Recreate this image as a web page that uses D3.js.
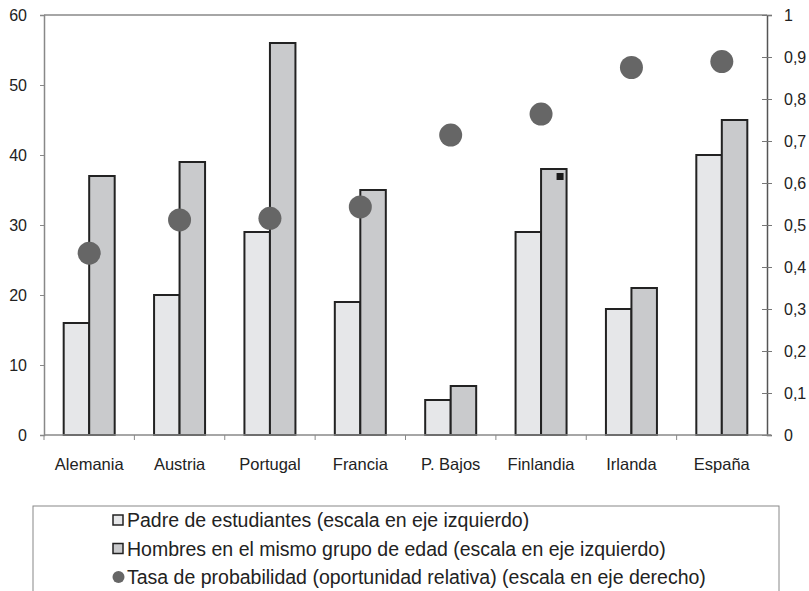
<!DOCTYPE html>
<html>
<head>
<meta charset="utf-8">
<script src="https://cdn.jsdelivr.net/npm/d3@7"></script>
<style>
  body { margin: 0; background: #fff; }
  text { font-family: "Liberation Sans", Arial, sans-serif; fill: #222; }
</style>
</head>
<body>
<svg id="chart" width="809" height="591"></svg>
<script>
// data
var countries = ["Alemania", "Austria", "Portugal", "Francia", "P. Bajos", "Finlandia", "Irlanda", "España"];
var padres = [16, 20, 29, 19, 5, 29, 18, 40];
var hombres = [37, 39, 56, 35, 7, 38, 21, 45];
var tasa = [0.433, 0.512, 0.516, 0.543, 0.714, 0.764, 0.875, 0.889];
var leftTicks = [0, 10, 20, 30, 40, 50, 60];
var rightTicks = [0, 0.1, 0.2, 0.3, 0.4, 0.5, 0.6, 0.7, 0.8, 0.9, 1];
var legendLabels = [
  "Padre de estudiantes (escala en eje izquierdo)",
  "Hombres en el mismo grupo de edad (escala en eje izquierdo)",
  "Tasa de probabilidad (oportunidad relativa) (escala en eje derecho)"
];

var svg = d3.select("#chart");

var plotLeft = 44, plotRight = 767, plotTop = 15, plotBottom = 435;

var x = d3.scaleBand().domain(countries).range([plotLeft, plotRight]);
var barW = 25.5;
var x1 = d3.scaleBand().domain(["padres", "hombres"]).range([-barW, barW]);
var yL = d3.scaleLinear().domain([0, 60]).range([plotBottom, plotTop]);
var yR = d3.scaleLinear().domain([0, 1]).range([plotBottom, plotTop]);

var fills = { padres: "#e6e7e9", hombres: "#c9cacc" };

// top border of plot
svg.append("line")
  .attr("x1", plotLeft).attr("x2", plotRight).attr("y1", plotTop).attr("y2", plotTop)
  .attr("stroke", "#888").attr("stroke-width", 1.5);

// bars
var rows = countries.map(function(c, i) {
  return { c: c, padres: padres[i], hombres: hombres[i], tasa: tasa[i] };
});

["padres", "hombres"].forEach(function(k) {
  svg.selectAll(".bar-" + k)
    .data(rows)
    .enter()
    .append("rect")
      .attr("x", function(d) { return x(d.c) + x.bandwidth() / 2 + x1(k); })
      .attr("y", function(d) { return yL(d[k]); })
      .attr("width", barW)
      .attr("height", function(d) { return yL(0) - yL(d[k]); })
      .attr("fill", fills[k])
      .attr("stroke", "#222")
      .attr("stroke-width", 2);
});

// little black square seen on the Finlandia bar
var fin = rows[5];
svg.append("rect")
  .attr("x", x(fin.c) + x.bandwidth() / 2 + x1("hombres") + barW - 10)
  .attr("y", yL(fin.hombres) + 4)
  .attr("width", 7).attr("height", 7)
  .attr("fill", "#1a1a1a");

// left axis
var gL = svg.append("g")
  .attr("transform", "translate(" + plotLeft + ",0)")
  .call(d3.axisLeft(yL).tickValues(leftTicks).tickSize(4).tickPadding(13));
gL.select(".domain").attr("stroke", "#888").attr("stroke-width", 1.5);
gL.selectAll(".tick line").attr("stroke", "#888");
gL.selectAll("text").style("font-size", "16px").attr("fill", "#222");

// right axis
var fmt = function(d) { return d3.format(".1~f")(d).replace(".", ","); };
var gR = svg.append("g")
  .attr("transform", "translate(" + plotRight + ",0)")
  .call(d3.axisRight(yR).tickValues(rightTicks).tickFormat(fmt).tickSize(5).tickPadding(12));
gR.select(".domain").attr("stroke", "#555").attr("stroke-width", 1.5);
gR.selectAll(".tick line").attr("x1", -5).attr("stroke", "#777");
gR.selectAll("text").style("font-size", "16px").attr("fill", "#222");

// bottom axis
var gB = svg.append("g")
  .attr("transform", "translate(0," + plotBottom + ")")
  .call(d3.axisBottom(x).tickSize(0).tickPadding(23));
gB.select(".domain").remove();
gB.selectAll("text").style("font-size", "16.5px").attr("fill", "#222");
svg.append("line")
  .attr("x1", plotLeft).attr("x2", plotRight + 4).attr("y1", plotBottom).attr("y2", plotBottom)
  .attr("stroke", "#888").attr("stroke-width", 1.5);
var bounds = countries.map(function(c) { return x(c); });
svg.selectAll(".btick")
  .data(bounds)
  .enter()
  .append("line")
    .attr("x1", function(d) { return d; }).attr("x2", function(d) { return d; })
    .attr("y1", plotBottom).attr("y2", plotBottom + 5)
    .attr("stroke", "#888");

// dots
svg.selectAll(".dot")
  .data(rows)
  .enter()
  .append("circle")
    .attr("cx", function(d) { return x(d.c) + x.bandwidth() / 2; })
    .attr("cy", function(d) { return yR(d.tasa); })
    .attr("r", 11.5)
    .attr("fill", "#666");

// legend
svg.append("rect")
  .attr("x", 33).attr("y", 506).attr("width", 746).attr("height", 120)
  .attr("fill", "none").attr("stroke", "#888").attr("stroke-width", 1);

var ly = d3.scalePoint().domain(legendLabels).range([520, 577]);
svg.append("rect").attr("x", 113).attr("y", ly(legendLabels[0]) - 5).attr("width", 10).attr("height", 10)
  .attr("fill", fills.padres).attr("stroke", "#222").attr("stroke-width", 1.5);
svg.append("rect").attr("x", 113).attr("y", ly(legendLabels[1]) - 5).attr("width", 10).attr("height", 10)
  .attr("fill", fills.hombres).attr("stroke", "#222").attr("stroke-width", 1.5);
svg.append("circle").attr("cx", 118.5).attr("cy", ly(legendLabels[2])).attr("r", 6).attr("fill", "#666");

svg.selectAll(".ltext")
  .data(legendLabels)
  .enter()
  .append("text")
    .attr("x", 127)
    .attr("y", function(d) { return ly(d); })
    .attr("dy", "0.36em")
    .style("font-size", "19.5px")
    .text(function(d) { return d; });
</script>
</body>
</html>
